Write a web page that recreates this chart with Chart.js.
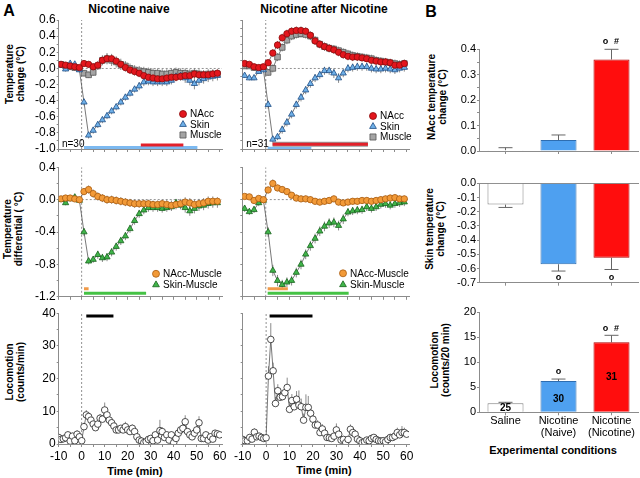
<!DOCTYPE html>
<html>
<head>
<meta charset="utf-8">
<title>Nicotine: brain, muscle, skin temperature and locomotion</title>
<script src="https://cdn.jsdelivr.net/npm/chart.js@4.4.1/dist/chart.umd.min.js"></script>
<style>
  body { margin:0; width:640px; height:478px; position:relative; overflow:hidden; background:#fff;
         font-family:'Liberation Sans', Arial, sans-serif; color:#000; }
  canvas { position:absolute; }
  .lbl { position:absolute; white-space:nowrap; transform:translate(-50%,-50%); font-weight:bold; }
  .ytitle { position:absolute; white-space:nowrap; text-align:center; font-weight:bold; font-size:10px;
            line-height:11px; transform:translate(-50%,-50%) rotate(-90deg); }
</style>
</head>
<body>
<div class="lbl" style="left:9px;top:11px;font-size:16px">A</div>
<div class="lbl" style="left:431px;top:12px;font-size:16px">B</div>
<div class="lbl" style="left:129px;top:9px;font-size:12px">Nicotine naive</div>
<div class="lbl" style="left:324px;top:9px;font-size:12px">Nicotine after Nicotine</div>
<div class="ytitle" style="left:15px;top:74px">Temperature<br>change (°C)</div>
<div class="ytitle" style="left:13px;top:229px">Temperature<br>differential ( °C)</div>
<div class="ytitle" style="left:15px;top:372px">Locomotion<br>(counts/min)</div>
<div class="ytitle" style="left:437px;top:97px">NAcc temperature<br>change (°C)</div>
<div class="ytitle" style="left:435px;top:229px">Skin temperature<br>change (°C)</div>
<div class="ytitle" style="left:440px;top:360px">Locomotion<br>(counts/20 min)</div>
<div class="lbl" style="left:135px;top:471px;font-size:11px">Time (min)</div>
<div class="lbl" style="left:324px;top:470px;font-size:11px">Time (min)</div>
<div class="lbl" style="left:553px;top:450px;font-size:11px">Experimental conditions</div>

<script>
// time points (min)
const tempTimes = [-9,-7,-5,-3,-1,1,3,5,7,9,11,13,15,17,19,21,23,25,27,29,31,33,35,37,39,41,43,45,47,49,51,53,55,57,59];
const locoTimes = [-10,-9,-8,-7,-6,-5,-4,-3,-2,-1,0,1,2,3,4,5,6,7,8,9,10,11,12,13,14,15,16,17,18,19,20,
  21,22,23,24,25,26,27,28,29,30,31,32,33,34,35,36,37,38,39,40,41,42,43,44,45,46,47,48,49,50,
  51,52,53,54,55,56,57,58,59,60];

// nicotine naive - temperature change
const naiveNAcc = [0.05,0.04,0.03,0.02,0.01,0.06,0.05,0.02,0.04,0.10,0.12,0.12,0.09,0.05,0.01,-0.02,-0.04,-0.06,
  -0.09,-0.11,-0.12,-0.13,-0.13,-0.12,-0.11,-0.11,-0.10,-0.09,-0.09,-0.07,-0.08,-0.08,-0.08,-0.07,-0.06];
const naiveSkin = [0.04,-0.01,0.06,0.05,-0.02,-0.42,-0.83,-0.77,-0.70,-0.64,-0.59,-0.53,-0.48,-0.42,-0.36,-0.31,
  -0.26,-0.22,-0.17,-0.16,-0.17,-0.17,-0.17,-0.17,-0.15,-0.10,-0.09,-0.12,-0.15,-0.19,-0.15,-0.13,-0.11,-0.10,-0.09];
const naiveMuscle = [0.05,0.03,0.02,0.01,0.00,-0.06,-0.08,-0.05,0.03,0.10,0.12,0.10,0.08,0.05,0.03,0.00,-0.02,-0.03,
  -0.04,-0.05,-0.06,-0.06,-0.07,-0.07,-0.06,-0.05,-0.06,-0.06,-0.07,-0.06,-0.07,-0.08,-0.07,-0.07,-0.07];
const errNaiveNAcc = [0.03,0.03,0.03,0.03,0.03,0.03,0.04,0.04,0.05,0.06,0.06,0.06,0.05,0.05,0.05,0.05,0.05,0.05,
  0.05,0.05,0.05,0.05,0.04,0.05,0.05,0.05,0.05,0.05,0.05,0.05,0.05,0.04,0.05,0.05,0.04];
const errNaiveSkin = [0.03,0.03,0.03,0.03,0.03,0.04,0.04,0.04,0.04,0.04,0.04,0.04,0.04,0.04,0.04,0.04,0.04,0.05,
  0.05,0.05,0.05,0.05,0.05,0.05,0.05,0.05,0.06,0.06,0.06,0.07,0.06,0.06,0.06,0.06,0.06];
const errNaiveMuscle = [0.03,0.03,0.03,0.03,0.03,0.04,0.04,0.04,0.05,0.06,0.07,0.07,0.07,0.07,0.06,0.06,0.06,0.06,
  0.06,0.06,0.06,0.06,0.06,0.06,0.06,0.06,0.06,0.06,0.06,0.06,0.06,0.06,0.06,0.06,0.06];

// nicotine after nicotine - temperature change
const nicNAcc = [0.06,0.05,0.02,0.01,0.02,0.07,0.19,0.29,0.38,0.43,0.46,0.47,0.47,0.46,0.41,0.34,0.30,0.27,0.25,
  0.23,0.20,0.17,0.15,0.14,0.14,0.13,0.12,0.10,0.09,0.08,0.08,0.07,0.04,0.04,0.06];
const nicSkin = [-0.09,-0.12,-0.12,-0.04,-0.02,-0.45,-0.88,-0.85,-0.76,-0.67,-0.57,-0.45,-0.36,-0.27,-0.19,-0.12,
  -0.08,-0.03,-0.03,-0.06,-0.12,-0.06,0.00,0.01,0.02,0.02,0.02,0.00,-0.01,-0.01,0.00,-0.01,-0.02,0.00,0.01];
const nicMuscle = [0.03,0.03,0.01,0.00,0.01,-0.05,0.00,0.14,0.26,0.35,0.40,0.42,0.43,0.42,0.40,0.35,0.30,0.27,0.25,
  0.24,0.22,0.20,0.18,0.16,0.15,0.14,0.13,0.12,0.10,0.09,0.08,0.07,0.06,0.05,0.06];
const errNicNAcc = [0.03,0.03,0.03,0.03,0.03,0.04,0.05,0.05,0.05,0.05,0.05,0.05,0.05,0.05,0.05,0.05,0.05,0.05,
  0.05,0.05,0.05,0.05,0.05,0.05,0.05,0.04,0.04,0.04,0.04,0.04,0.04,0.04,0.04,0.04,0.04];
const errNicSkin = [0.03,0.03,0.03,0.03,0.03,0.05,0.04,0.04,0.05,0.05,0.05,0.05,0.05,0.05,0.05,0.05,0.05,0.05,
  0.05,0.06,0.06,0.05,0.05,0.05,0.05,0.05,0.05,0.05,0.05,0.05,0.05,0.05,0.05,0.05,0.05];
const errNicMuscle = [0.03,0.03,0.03,0.03,0.03,0.04,0.05,0.05,0.05,0.05,0.05,0.05,0.05,0.05,0.05,0.05,0.05,0.05,
  0.05,0.05,0.05,0.05,0.05,0.05,0.05,0.05,0.05,0.05,0.05,0.05,0.05,0.05,0.05,0.05,0.05];

// temperature differentials
const naiveNM = [0.01,0.02,0.02,0.01,0.00,0.10,0.125,0.075,0.04,0.02,0.00,0.00,-0.01,-0.02,-0.03,-0.04,-0.05,-0.05,
  -0.05,-0.05,-0.06,-0.06,-0.05,-0.06,-0.07,-0.06,-0.05,-0.03,-0.04,-0.06,-0.05,-0.04,-0.02,-0.02,-0.02];
const naiveSM = [0.00,-0.04,0.01,0.03,-0.01,-0.40,-0.76,-0.74,-0.68,-0.72,-0.71,-0.65,-0.58,-0.51,-0.45,-0.36,
  -0.26,-0.175,-0.13,-0.10,-0.10,-0.10,-0.11,-0.10,-0.09,-0.04,-0.07,-0.10,-0.14,-0.11,-0.08,-0.07,-0.05,-0.04,-0.04];
const nicNM = [0.04,0.035,-0.01,0.015,0.00,0.12,0.20,0.145,0.125,0.10,0.055,0.02,0.01,0.01,0.00,-0.02,-0.03,-0.02,
  -0.01,0.01,-0.03,-0.04,-0.03,-0.02,-0.02,-0.01,-0.01,-0.02,-0.01,0.00,0.01,0.02,0.025,0.01,0.01];
const nicSM = [-0.11,-0.15,-0.125,-0.04,-0.01,-0.40,-0.875,-1.00,-1.05,-1.02,-1.00,-0.90,-0.80,-0.675,-0.57,-0.48,
  -0.39,-0.33,-0.29,-0.28,-0.32,-0.24,-0.155,-0.14,-0.13,-0.125,-0.09,-0.11,-0.09,-0.06,-0.05,-0.07,-0.05,-0.04,-0.03];
const errNaiveNM = [0.03,0.03,0.03,0.03,0.03,0.04,0.05,0.05,0.05,0.05,0.05,0.05,0.05,0.05,0.05,0.05,0.05,0.05,
  0.05,0.05,0.05,0.05,0.05,0.06,0.06,0.06,0.06,0.06,0.06,0.06,0.06,0.06,0.06,0.06,0.05];
const errNaiveSM = [0.03,0.03,0.03,0.03,0.03,0.05,0.04,0.04,0.05,0.05,0.05,0.05,0.05,0.05,0.05,0.05,0.05,0.05,
  0.05,0.05,0.05,0.05,0.05,0.05,0.05,0.05,0.05,0.06,0.06,0.06,0.06,0.06,0.06,0.06,0.06];
const errNicNM = [0.03,0.03,0.03,0.03,0.03,0.04,0.05,0.04,0.04,0.04,0.04,0.04,0.04,0.04,0.04,0.04,0.04,0.04,
  0.04,0.04,0.04,0.04,0.04,0.04,0.04,0.04,0.04,0.04,0.04,0.04,0.04,0.04,0.04,0.04,0.04];
const errNicSM = [0.04,0.04,0.04,0.04,0.03,0.06,0.07,0.07,0.06,0.06,0.06,0.06,0.06,0.06,0.06,0.06,0.06,0.06,
  0.06,0.06,0.06,0.06,0.05,0.05,0.05,0.05,0.05,0.05,0.05,0.05,0.05,0.05,0.05,0.05,0.05];

// locomotion (counts/min)
const naiveLoco = [2.0,1.4,1.6,1.9,2.8,0.9,2.4,1.0,3.0,2.2,1.0,
  5.3,8.9,8.4,7.3,6.1,5.0,6.1,7.9,7.6,10.4,
  8.9,7.3,6.5,5.5,4.3,4.3,4.8,4.3,5.3,4.3,
  3.8,4.8,3.8,2.2,1.2,0.9,0.4,0.7,1.4,1.7,
  1.0,2.8,1.2,4.1,3.8,2.0,2.8,1.2,2.8,0.4,
  1.7,3.3,4.3,4.8,6.8,3.8,2.8,2.2,3.3,4.3,
  6.5,1.7,1.7,2.8,1.2,2.2,1.5,3.3,3.1,2.8];
const errNaiveLoco = [0.8,0.7,0.8,0.9,1.0,0.6,1.0,0.6,1.2,1.0,0.5,
  1.2,1.5,1.2,1.0,0.9,0.8,1.0,1.3,1.2,2.3,
  1.6,1.2,1.0,0.9,0.8,0.8,1.0,0.9,1.5,1.0,
  0.9,1.2,0.9,0.7,0.5,0.5,0.3,0.4,0.6,0.8,
  0.5,1.0,0.6,3.3,1.3,0.8,1.0,0.5,1.0,0.3,
  0.7,1.0,1.2,1.5,2.0,1.0,1.0,0.8,1.0,1.3,
  2.0,0.8,0.7,1.0,0.5,0.8,0.7,1.0,0.8,0.7];
const nicLoco = [1.4,1.0,1.0,2.0,1.5,3.6,2.2,2.4,2.0,1.7,1.9,
  20.8,32.0,22.4,12.4,16.3,14.3,14.5,15.7,17.3,10.6,
  13.3,11.4,13.7,11.9,11.4,7.3,11.2,11.2,9.4,7.6,
  5.8,5.8,3.5,4.6,3.3,2.0,1.9,1.7,2.4,4.3,
  3.0,1.2,1.4,0.4,1.4,4.5,3.5,3.0,1.5,1.0,
  0.4,0.7,1.2,1.0,1.7,2.0,1.4,1.0,0.9,1.0,
  0.7,1.4,2.0,2.0,2.4,3.5,2.8,3.5,3.5,3.0];
const errNicLoco = [0.8,0.6,0.7,1.0,0.8,1.2,1.0,1.0,0.8,0.8,0.7,
  3.0,5.0,2.5,2.0,2.0,2.5,2.0,2.2,3.0,1.8,
  2.0,2.5,2.5,4.5,2.5,2.0,4.0,3.5,2.0,2.0,
  2.5,1.5,1.5,1.5,1.0,1.0,0.8,1.0,1.0,2.0,
  1.0,0.8,0.8,0.5,0.8,1.5,1.2,1.0,0.8,0.5,
  0.5,0.6,0.6,0.6,0.8,0.8,0.8,0.6,0.6,0.7,
  0.5,0.8,0.8,0.8,1.0,1.5,1.2,2.0,1.5,1.2];

// periods of significant change [start, end] (min)
const sigNaiveSkin = [1, 50.3];
const sigNaiveNAcc = [25.7, 44.2];
const sigNicNAcc = [2.9, 43.5];
const sigNicSkin = [0.8, 19.4];
const sigNaiveNM = [1, 3];
const sigNaiveSM = [1, 28];
const sigNicNM = [0.8, 9.4];
const sigNicSM = [0.8, 35.3];
const sigNaiveLoco = [2, 13.8];
const sigNicLoco = [1.5, 19.8];

// panel B
const groups = ['Saline', ['Nicotine', '(Naive)'], ['Nicotine', '(Nicotine)']];
const groupN = ['25', '30', '31'];
const naccMean = [0.003, 0.043, 0.36];
const naccSem = [0.01, 0.02, 0.04];
const skinMean = [-0.15, -0.57, -0.525];
const skinSem = [0.02, 0.048, 0.082];
const locoMean = [1.8, 6.25, 14.0];
const locoSem = [0.2, 0.4, 1.4];

Chart.defaults.font.family = "'Liberation Sans', Arial, sans-serif";
Chart.defaults.color = '#000';

const FONT = "'Liberation Sans', Arial, sans-serif";
const AXIS = '#8c8c8c';

// error bars drawn under the markers
const errorBars = {
  id: 'errorBars',
  beforeDatasetsDraw(chart) {
    const ctx = chart.ctx;
    chart.data.datasets.forEach((ds, i) => {
      if (!ds.errors) return;
      const meta = chart.getDatasetMeta(i);
      const ys = chart.scales[meta.yAxisID];
      ctx.save();
      ctx.strokeStyle = ds.errorColor || '#8a8a8a';
      ctx.lineWidth = ds.errorWidth || 1;
      meta.data.forEach((el, j) => {
        const d = ds.data[j];
        const v = typeof d === 'object' ? d.y : d;
        const e = ds.errors[j];
        if (!e) return;
        let lo = v - e, hi = v + e;
        if (ds.errorMode === 'up') { lo = v; hi = v + e; }
        if (ds.errorMode === 'away') { lo = v; hi = v < 0 ? v - e : v + e; }
        const y0 = ys.getPixelForValue(lo), y1 = ys.getPixelForValue(hi);
        ctx.beginPath();
        ctx.moveTo(el.x, y0);
        ctx.lineTo(el.x, y1);
        if (ds.errorCap) {
          ctx.moveTo(el.x - ds.errorCap / 2, y1);
          ctx.lineTo(el.x + ds.errorCap / 2, y1);
        }
        ctx.stroke();
      });
      ctx.restore();
    });
  }
};

// legend drawn inside the plot area
const inLegend = {
  id: 'inlegend',
  afterDatasetsDraw(chart, args, opts) {
    if (!opts || !opts.items) return;
    const a = chart.chartArea, ctx = chart.ctx;
    opts.items.forEach((it, k) => {
      const x = a.right + opts.dx, y = a.bottom + opts.dy + k * opts.gap;
      ctx.save();
      ctx.fillStyle = it.bg;
      ctx.strokeStyle = it.border;
      ctx.lineWidth = 0.8;
      Chart.helpers.drawPoint(ctx, {pointStyle: it.style, radius: it.r, borderWidth: 0.8, rotation: 0}, x, y);
      ctx.fillStyle = '#000';
      ctx.font = '10px ' + FONT;
      ctx.textAlign = 'left';
      ctx.textBaseline = 'middle';
      ctx.fillText(it.label, x + 7, y + 0.5);
      ctx.restore();
    });
  }
};

// small text notes placed in data coordinates
const notes = {
  id: 'notes',
  afterDraw(chart, args, opts) {
    if (!opts || !opts.items) return;
    const ctx = chart.ctx, xs = chart.scales.x, ys = chart.scales.y;
    opts.items.forEach(n => {
      ctx.save();
      ctx.font = (n.bold ? 'bold ' : '') + (n.size || 10) + 'px ' + FONT;
      ctx.fillStyle = '#000';
      ctx.textAlign = n.align || 'center';
      ctx.textBaseline = 'middle';
      ctx.fillText(n.text, xs.getPixelForValue(n.x) + (n.dx || 0), ys.getPixelForValue(n.y));
      ctx.restore();
    });
  }
};

function isStep(v, s) {
  return Math.abs(v / s - Math.round(v / s)) < 1e-6;
}

function makeCanvas(box) {
  const c = document.createElement('canvas');
  c.width = box.w;
  c.height = box.h;
  c.style.left = box.x + 'px';
  c.style.top = box.y + 'px';
  document.body.appendChild(c);
  return c;
}

// fixes the plot area of a chart inside its canvas
function frame(box, area) {
  return {
    padding: {left: 0, top: area.t - box.y, right: box.x + box.w - area.r, bottom: 0},
    yw: area.l - box.x,
    xh: box.y + box.h - area.b
  };
}

const looks = {
  nacc:   {pointStyle: 'circle',   pointRadius: 3.2, pointBackgroundColor: '#e3161d', pointBorderColor: '#8a0b0b'},
  skin:   {pointStyle: 'triangle', pointRadius: 3.6, pointBackgroundColor: '#6fb0e8', pointBorderColor: '#1f4e85'},
  muscle: {pointStyle: 'rect',     pointRadius: 4,   pointBackgroundColor: '#a4a4a4', pointBorderColor: '#555'},
  nm:     {pointStyle: 'circle',   pointRadius: 3.2, pointBackgroundColor: '#f29a38', pointBorderColor: '#a85c10'},
  sm:     {pointStyle: 'triangle', pointRadius: 3.6, pointBackgroundColor: '#40b54a', pointBorderColor: '#16621c'},
  loco:   {pointStyle: 'circle',   pointRadius: 3.3, pointBackgroundColor: '#fff',    pointBorderColor: '#222'}
};

function series(times, vals, errs, look, order, mode) {
  return Object.assign({
    data: vals.map((v, i) => ({x: times[i], y: v})),
    errors: errs, errorMode: mode || 'both',
    borderColor: '#555', borderWidth: 0.8, pointBorderWidth: 0.8, order: order
  }, look);
}

function segment(span, y, color, width, order) {
  return {data: [{x: span[0], y: y}, {x: span[1], y: y}], borderColor: color, borderWidth: width,
          pointRadius: 0, borderCapStyle: 'butt', order: order};
}

function dashed(p0, p1) {
  return {data: [p0, p1], borderColor: '#777', borderWidth: 0.8, borderDash: [2, 2],
          pointRadius: 0, order: 20};
}

function legendItems(keys, labels) {
  return keys.map((k, i) => ({label: labels[i], style: looks[k].pointStyle, r: looks[k].pointRadius + 0.3,
    bg: looks[k].pointBackgroundColor, border: looks[k].pointBorderColor}));
}

function timeChart(box, area, datasets, y, showX, showY, extra) {
  const f = frame(box, area);
  return new Chart(makeCanvas(box), {
    type: 'line',
    data: {datasets: datasets},
    options: {
      responsive: false, animation: false,
      layout: {padding: f.padding},
      scales: {
        x: {
          type: 'linear', min: -10, max: 61,
          afterBuildTicks: s => { s.ticks = s.ticks.filter(t => isStep(t.value, 5)); },
          afterFit: s => { s.height = f.xh; },
          ticks: {stepSize: 5, includeBounds: false, autoSkip: false, maxRotation: 0, padding: 2, font: {size: 12},
                  callback: v => (showX && isStep(v, 10)) ? String(Math.round(v)) : ''},
          grid: {drawOnChartArea: false, tickLength: 3, color: AXIS},
          border: {color: AXIS}
        },
        y: {
          min: y.min, max: y.max,
          afterFit: s => { s.width = f.yw; },
          ticks: {stepSize: y.minor, autoSkip: false, padding: 1, font: {size: 12},
                  callback: v => (showY && isStep(v, y.major)) ? (Math.round(v * 100) / 100).toFixed(y.dec) : ''},
          grid: {drawOnChartArea: false, tickLength: 2, color: AXIS},
          border: {color: AXIS}
        }
      },
      plugins: Object.assign({legend: {display: false}, tooltip: {enabled: false}}, extra)
    },
    plugins: [errorBars, inLegend, notes]
  });
}

const barFill = ['#ffffff', '#4ea0f0', '#ff0d0d'];
const barEdge = ['#7f7f7f', '#2e6db0', '#b00000'];

function barChart(box, area, vals, errs, y, showLabels, noteItems, topLine) {
  const f = frame(box, area);
  const scales = {
    x: {
      afterFit: s => { s.height = f.xh; },
      ticks: {autoSkip: false, maxRotation: 0, padding: 0, font: {size: 11, lineHeight: 1.1},
              callback: function (v, i) { return showLabels ? groups[i] : ''; }},
      grid: {drawOnChartArea: false, offset: false, tickLength: 3, color: AXIS},
      border: {color: AXIS}
    },
    y: {
      min: y.min, max: y.max,
      afterFit: s => { s.width = f.yw; },
      ticks: {stepSize: y.minor, autoSkip: false, padding: 1, font: {size: 11},
              callback: v => isStep(v, y.major) ? (Math.round(v * 100) / 100).toFixed(y.dec) : ''},
      grid: {drawOnChartArea: false, tickLength: 2, color: AXIS},
      border: {color: AXIS}
    }
  };
  if (topLine) {
    scales.xTop = {position: 'top', afterFit: s => { s.height = 0; },
                   ticks: {display: false}, grid: {display: false}, border: {color: AXIS}};
  }
  return new Chart(makeCanvas(box), {
    type: 'bar',
    data: {
      labels: ['Saline', 'Nicotine (Naive)', 'Nicotine (Nicotine)'],
      datasets: [{data: vals, errors: errs, errorMode: 'away', errorCap: 14, errorColor: '#666',
                  backgroundColor: barFill, borderColor: barEdge, borderWidth: 1,
                  barPercentage: 0.68, categoryPercentage: 1}]
    },
    options: {
      responsive: false, animation: false,
      layout: {padding: f.padding},
      scales: scales,
      plugins: {legend: {display: false}, tooltip: {enabled: false}, notes: {items: noteItems}}
    },
    plugins: [errorBars, notes]
  });
}

const tempAxis = {min: -1.0, max: 0.6, minor: 0.1, major: 0.2, dec: 1};
const diffAxis = {min: -1.2, max: 0.4, minor: 0.2, major: 0.4, dec: 1};
const locoAxis = {min: 0, max: 40, minor: 5, major: 10, dec: 0};

const leftBox = (y, h) => ({x: 0, y: y, w: 230, h: h});
const rightBox = (y, h) => ({x: 232, y: y, w: 185, h: h});
const leftArea = (t, b) => ({l: 58.7, r: 222, t: t, b: b});
const rightArea = (t, b) => ({l: 242.3, r: 409, t: t, b: b});

const tempLegend = legendItems(['nacc', 'skin', 'muscle'], ['NAcc', 'Skin', 'Muscle']);
const diffLegend = legendItems(['nm', 'sm'], ['NAcc-Muscle', 'Skin-Muscle']);

// row 1: temperature change
timeChart(leftBox(8, 152), leftArea(20, 149), [
  series(tempTimes, naiveNAcc, errNaiveNAcc, looks.nacc, 0),
  series(tempTimes, naiveSkin, errNaiveSkin, looks.skin, 1),
  series(tempTimes, naiveMuscle, errNaiveMuscle, looks.muscle, 2),
  segment(sigNaiveNAcc, -0.95, '#e3202a', 3, 4),
  segment(sigNaiveSkin, -0.98, '#7cb9f0', 3, 5),
  dashed({x: 0, y: -1.0}, {x: 0, y: 0.6}),
  dashed({x: 0, y: 0}, {x: 61, y: 0})
], tempAxis, false, true, {
  inlegend: {dx: -39, dy: -35, gap: 10.5, items: tempLegend},
  notes: {items: [{text: 'n=30', x: -8.6, y: -0.94, align: 'left', size: 10}]}
});

timeChart(rightBox(8, 152), rightArea(20, 149), [
  series(tempTimes, nicNAcc, errNicNAcc, looks.nacc, 0),
  series(tempTimes, nicSkin, errNicSkin, looks.skin, 1),
  series(tempTimes, nicMuscle, errNicMuscle, looks.muscle, 2),
  segment(sigNicNAcc, -0.94, '#e3202a', 3, 4),
  segment(sigNicNAcc, -0.94, '#9a9a9a', 5, 5),
  segment(sigNicSkin, -0.99, '#7cb9f0', 3, 6),
  dashed({x: 0, y: -1.0}, {x: 0, y: 0.6}),
  dashed({x: 0, y: 0}, {x: 61, y: 0})
], tempAxis, false, false, {
  inlegend: {dx: -36, dy: -33, gap: 10.5, items: tempLegend},
  notes: {items: [{text: 'n=31', x: -8.3, y: -0.94, align: 'left', size: 10}]}
});

// row 2: temperature differentials
timeChart(leftBox(155, 150), leftArea(167.3, 297.7), [
  series(tempTimes, naiveNM, errNaiveNM, looks.nm, 0),
  series(tempTimes, naiveSM, errNaiveSM, looks.sm, 1),
  segment(sigNaiveNM, -1.10, '#f09a48', 3, 4),
  segment(sigNaiveSM, -1.155, '#45c245', 3, 5),
  dashed({x: 0, y: -1.2}, {x: 0, y: 0.4}),
  dashed({x: 0, y: 0}, {x: 61, y: 0})
], diffAxis, false, true, {
  inlegend: {dx: -66, dy: -23, gap: 11, items: diffLegend}
});

timeChart(rightBox(155, 150), rightArea(167.3, 297.7), [
  series(tempTimes, nicNM, errNicNM, looks.nm, 0),
  series(tempTimes, nicSM, errNicSM, looks.sm, 1),
  segment(sigNicNM, -1.10, '#f09a48', 3, 4),
  segment(sigNicSM, -1.155, '#45c245', 3, 5),
  dashed({x: 0, y: -1.2}, {x: 0, y: 0.4}),
  dashed({x: 0, y: 0}, {x: 61, y: 0})
], diffAxis, false, false, {
  inlegend: {dx: -66, dy: -23.5, gap: 11.4, items: diffLegend}
});

// row 3: locomotion
timeChart(leftBox(301, 166), leftArea(313.3, 444), [
  series(locoTimes, naiveLoco, errNaiveLoco, looks.loco, 0, 'up'),
  segment(sigNaiveLoco, 39.2, '#000', 3, 4),
  dashed({x: 0, y: 0}, {x: 0, y: 40})
], locoAxis, true, true, {});

timeChart(rightBox(301, 166), rightArea(313.3, 444), [
  series(locoTimes, nicLoco, errNicLoco, looks.loco, 0, 'up'),
  segment(sigNicLoco, 39.2, '#000', 3, 4),
  dashed({x: 0, y: 0}, {x: 0, y: 40})
], locoAxis, true, false, {});

// panel B
const bBox = (y, h) => ({x: 440, y: y, w: 200, h: h});
const bArea = (t, b) => ({l: 479, r: 638, t: t, b: b});

barChart(bBox(37, 123), bArea(49.3, 151), naccMean, naccSem,
  {min: 0, max: 0.4, minor: 0.05, major: 0.1, dec: 1}, false,
  [{text: 'o', x: 2, dx: -6, y: 0.43, bold: true, size: 9},
   {text: '#', x: 2, dx: 5, y: 0.43, bold: true, size: 9}], false);

barChart(bBox(171, 121), bArea(183.3, 282.7), skinMean, skinSem,
  {min: -0.7, max: 0, minor: 0.1, major: 0.1, dec: 1}, false,
  [{text: 'o', x: 1, y: -0.66, bold: true, size: 9},
   {text: 'o', x: 2, y: -0.66, bold: true, size: 9}], true);

barChart(bBox(300, 140), bArea(312.3, 412.3), locoMean, locoSem,
  {min: 0, max: 20, minor: 5, major: 5, dec: 0}, true,
  [{text: 'o', x: 1, y: 8.1, bold: true, size: 9},
   {text: 'o', x: 2, dx: -6, y: 16.7, bold: true, size: 9},
   {text: '#', x: 2, dx: 5, y: 16.7, bold: true, size: 9},
   {text: groupN[0], x: 0, y: 0.8, bold: true, size: 10},
   {text: groupN[1], x: 1, y: 2.7, bold: true, size: 10},
   {text: groupN[2], x: 2, y: 7.0, bold: true, size: 10}], false);
</script>
</body>
</html>
